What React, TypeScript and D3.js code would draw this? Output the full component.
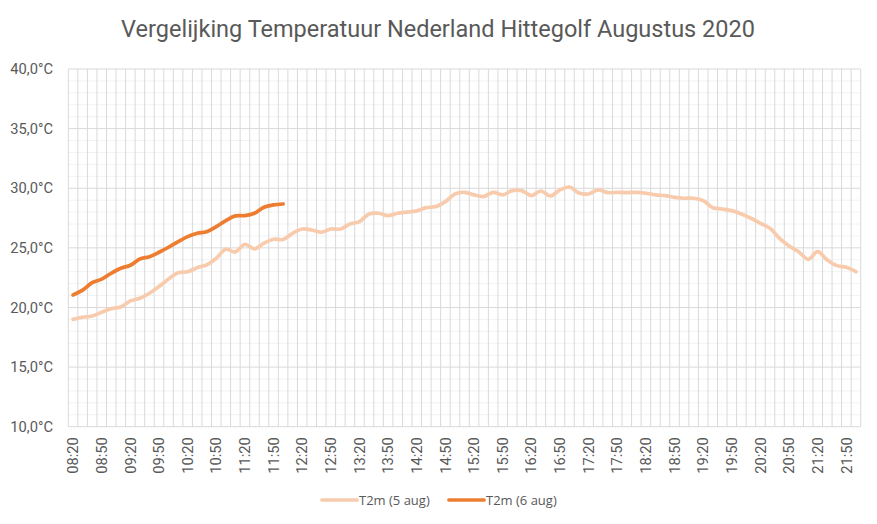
import React, { useEffect } from 'react'
import * as d3 from 'd3'

// 10-minute categories from 08:20 to 22:00
const startMinutes = 8 * 60 + 20
const categoryCount = 83
const categories: string[] = d3.range(categoryCount).map(i => {
  const m = startMinutes + i * 10
  return `${String(Math.floor(m / 60)).padStart(2, '0')}:${String(m % 60).padStart(2, '0')}`
})

// T2m 5 augustus
const t2m5aug = [
  19.0, 19.18, 19.29, 19.6, 19.9, 20.04, 20.55, 20.77, 21.19, 21.75,
  22.39, 22.92, 23.0, 23.34, 23.57, 24.13, 24.88, 24.66, 25.3, 24.91,
  25.39, 25.72, 25.7, 26.22, 26.58, 26.5, 26.31, 26.58, 26.58, 27.0,
  27.2, 27.84, 27.9, 27.7, 27.9, 28.0, 28.1, 28.37, 28.46, 28.88,
  29.52, 29.66, 29.44, 29.3, 29.66, 29.44, 29.8, 29.8, 29.38, 29.77,
  29.35, 29.86, 30.1, 29.6, 29.52, 29.86, 29.63, 29.66, 29.63, 29.66,
  29.58, 29.44, 29.38, 29.24, 29.16, 29.16, 28.96, 28.37, 28.26, 28.12,
  27.84, 27.48, 27.06, 26.64, 25.8, 25.16, 24.68, 24.04, 24.68, 23.98,
  23.51, 23.37, 23.0
]

// T2m 6 augustus (tot 12:00)
const t2m6aug = [
  21.05, 21.45, 22.08, 22.37, 22.87, 23.29, 23.54, 24.07, 24.26, 24.63,
  25.05, 25.52, 25.94, 26.22, 26.36, 26.78, 27.28, 27.68, 27.7, 27.9,
  28.41, 28.6, 28.68
]

const yTicks = [10, 15, 20, 25, 30, 35, 40]
const yMinorTicks = d3.range(10, 41, 1).filter(v => v % 5 !== 0)

const series = [
  { name: 'T2m (5 aug)', values: t2m5aug, color: '#F8CBAD' },
  { name: 'T2m (6 aug)', values: t2m6aug, color: '#ED7D31' }
]

const width = 877
const height = 524
const plot = { left: 68.3, right: 860.7, top: 69, bottom: 426.7 }
const textColor = '#595959'

export default function App() {
  useEffect(() => {
    document.body.style.margin = '0'
  }, [])

  const x = d3.scaleBand<string>()
    .domain(categories)
    .range([plot.left, plot.right])
    .padding(0)

  const y = d3.scaleLinear()
    .domain([10, 40])
    .range([plot.bottom, plot.top])

  const line = d3.line<number>()
    .x((_, i) => x(categories[i])! + x.bandwidth() / 2)
    .y(d => y(d))
    .curve(d3.curveCatmullRom.alpha(0.5))

  const boundaries = categories.map(c => x(c)!).concat([plot.right])

  const labelIdx = categories.map((_, i) => i).filter(i => i % 3 === 0 && i < categoryCount - 1)

  const legendY = 500
  const legendItems = [
    { lineX: 322, textX: 359 },
    { lineX: 449, textX: 486 }
  ]

  return (
    <svg width={width} height={height} style={{ display: 'block', background: '#fff' }}>
      <text
        x={438}
        y={37}
        textAnchor="middle"
        fontFamily="Roboto"
        fontSize={23.5}
        fill={textColor}
      >
        Vergelijking Temperatuur Nederland Hittegolf Augustus 2020
      </text>

      {/* minor horizontal gridlines */}
      {yMinorTicks.map(v => (
        <line key={`m${v}`} x1={plot.left} x2={plot.right} y1={y(v)} y2={y(v)} stroke="#F2F2F2" strokeWidth={1} />
      ))}

      {/* vertical gridlines */}
      {boundaries.map((bx, i) => (
        <line key={`v${i}`} x1={bx} x2={bx} y1={plot.top} y2={plot.bottom} stroke="#D9D9D9" strokeWidth={1} />
      ))}

      {/* major horizontal gridlines */}
      {yTicks.map(v => (
        <line key={`M${v}`} x1={plot.left} x2={plot.right} y1={y(v)} y2={y(v)} stroke="#D9D9D9" strokeWidth={1} />
      ))}

      {/* y axis labels */}
      {yTicks.map(v => (
        <text
          key={`yl${v}`}
          x={53}
          y={y(v)}
          dy="0.35em"
          textAnchor="end"
          fontFamily="Roboto"
          fontSize={14.7}
          fill={textColor}
        >
          {v.toFixed(1).replace('.', ',')}°C
        </text>
      ))}

      {/* x axis labels */}
      {labelIdx.map(i => {
        const cx = x(categories[i])! + x.bandwidth() / 2
        return (
          <text
            key={`xl${i}`}
            transform={`translate(${cx},${plot.bottom + 10.5}) rotate(-90)`}
            dy="0.35em"
            textAnchor="end"
            fontFamily="Roboto"
            fontSize={14.7}
            fill={textColor}
          >
            {categories[i]}
          </text>
        )
      })}

      {/* series */}
      {series.map(s => (
        <path
          key={s.name}
          d={line(s.values) ?? ''}
          fill="none"
          stroke={s.color}
          strokeWidth={3.7}
          strokeLinecap="round"
          strokeLinejoin="round"
        />
      ))}

      {/* legend */}
      {series.map((s, i) => (
        <g key={`lg${i}`}>
          <line
            x1={legendItems[i].lineX}
            x2={legendItems[i].lineX + 35}
            y1={legendY}
            y2={legendY}
            stroke={s.color}
            strokeWidth={3.7}
            strokeLinecap="round"
          />
          <text
            x={legendItems[i].textX}
            y={legendY}
            dy="0.35em"
            fontFamily="Open Sans"
            fontSize={13}
            fill={textColor}
          >
            {s.name}
          </text>
        </g>
      ))}
    </svg>
  )
}
